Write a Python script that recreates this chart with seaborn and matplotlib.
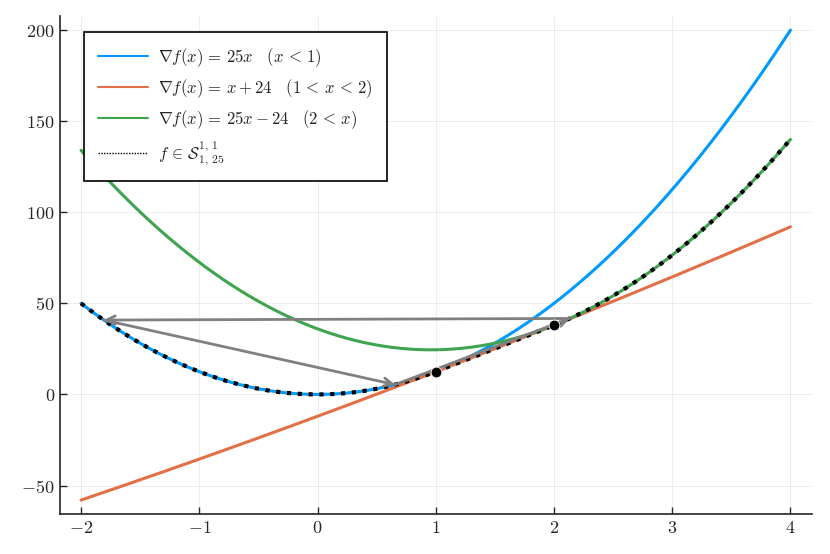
import numpy as np
import pandas as pd
import matplotlib.pyplot as plt
import seaborn as sns

# quadratic pieces f(x) = a*x^2 + b*x + c
coef_blue = [12.5, 0.0, 0.0]      # grad = 25x
coef_orange = [0.5, 24.0, -12.0]  # grad = x + 24
coef_green = [12.5, -24.0, 36.0]  # grad = 25x - 24
breaks = [1.0, 2.0]
x_range = [-2.0, 4.0]

# heavy-ball cycle iterates and the two kink points
cycle_x = [0.6557, 2.1332, -1.8073]
kink_x = [1.0, 2.0]

labels = [r"$\nabla f(x) \,=\, 25x\ \ \ (x \,<\, 1)$",
          r"$\nabla f(x) \,=\, x + 24\ \ \ (1 \,<\, x \,<\, 2)$",
          r"$\nabla f(x) \,=\, 25x - 24\ \ \ (2 \,<\, x)$",
          r"$f \,\in\, \mathcal{S}_{1,\,25}^{1,\,1}$"]
colors = ["#009AFA", "#E36F47", "#3EA44E"]


def quad(c, x):
    return c[0] * x**2 + c[1] * x + c[2]


def f(x):
    x = np.asarray(x, dtype=float)
    return np.where(x < breaks[0], quad(coef_blue, x),
                    np.where(x < breaks[1], quad(coef_orange, x), quad(coef_green, x)))


sns.set_style("ticks")
plt.rcParams["mathtext.fontset"] = "cm"
plt.rcParams["font.family"] = ["DejaVu Serif"]

xs = np.linspace(x_range[0], x_range[1], 400)
fig, ax = plt.subplots(figsize=(8.3, 5.54), dpi=100)
fig.subplots_adjust(left=0.072, right=0.978, top=0.971, bottom=0.072)

for c, col, lab in zip([coef_blue, coef_orange, coef_green], colors, labels[:3]):
    sns.lineplot(x=xs, y=quad(c, xs), color=col, lw=2.2, label=lab, ax=ax)
sns.lineplot(x=xs, y=f(xs), color="black", lw=3, ls=(0, (1, 1.6)), label=labels[3], ax=ax)

# arrows of the cycle
cy = f(cycle_x)
n = len(cycle_x)
for i in range(n):
    x0, y0 = cycle_x[i], cy[i]
    x1, y1 = cycle_x[(i + 1) % n], cy[(i + 1) % n]
    ax.annotate("", xy=(x1, y1), xytext=(x0, y0),
                arrowprops=dict(arrowstyle="->,head_length=0.6,head_width=0.3",
                                color="gray", lw=2, shrinkA=0, shrinkB=0))

sns.scatterplot(x=kink_x, y=f(kink_x), color="black", s=60, zorder=5, ax=ax, legend=False)

ax.set_xlim(-2.18, 4.18)
ax.set_ylim(-65.7, 207.7)
xt = [-2, -1, 0, 1, 2, 3, 4]
yt = [-50, 0, 50, 100, 150, 200]
ax.set_xticks(xt)
ax.set_xticklabels([rf"${v}$" for v in xt])
ax.set_yticks(yt)
ax.set_yticklabels([rf"${v}$" for v in yt])
ax.tick_params(direction="in", length=5, width=1, labelsize=13)
ax.grid(True, color="black", alpha=0.08, lw=0.6)
sns.despine(ax=ax)
for s in ["left", "bottom"]:
    ax.spines[s].set_linewidth(1.2)

leg = ax.legend(loc="upper left", bbox_to_anchor=(0.032, 0.968), borderaxespad=0,
                fontsize=12, frameon=True, fancybox=False, edgecolor="black",
                framealpha=1, handlelength=3.0, handletextpad=0.6,
                borderpad=0.85, labelspacing=0.5)
leg.get_frame().set_linewidth(1.2)
for h in leg.get_lines():
    h.set_linewidth(1.5)
leg.get_lines()[3].set_linestyle((0, (1, 1)))
leg.get_lines()[3].set_linewidth(1)

plt.savefig("out.png")
